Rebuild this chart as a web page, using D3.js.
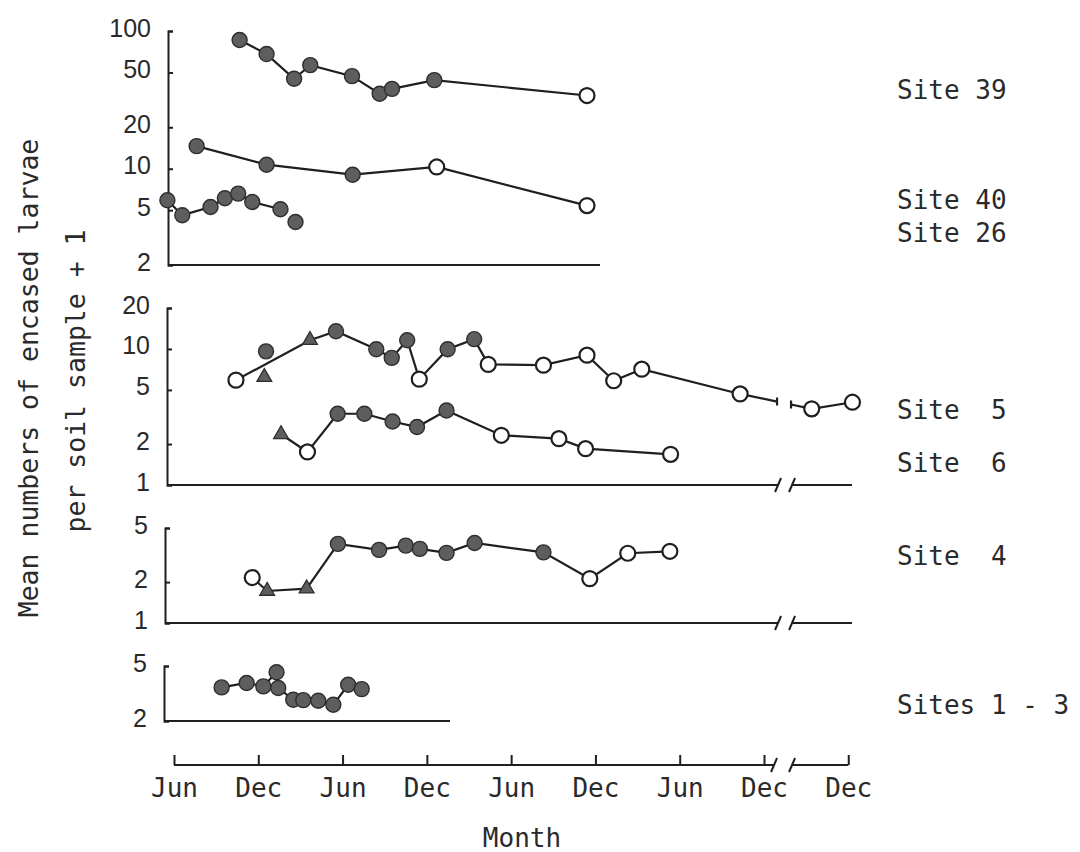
<!DOCTYPE html>
<html>
<head>
<meta charset="utf-8">
<script src="https://cdn.jsdelivr.net/npm/d3@7"></script>
<style>
  body { margin: 0; background: #fff; }
  svg { display: block; }
</style>
</head>
<body>
<svg id="chart" width="1080" height="852"></svg>
<script>
// Time is counted in months from the first June on the axis (Jun = 0, Dec = 6, ...).
const monthTicks  = [0, 6, 12, 18, 24, 30, 36, 42, 54];
const monthLabels = ["Jun", "Dec", "Jun", "Dec", "Jun", "Dec", "Jun", "Dec", "Dec"];

// Marker codes: f = filled circle, o = open circle, t = filled triangle.
const site39Months = [4.67, 6.59, 8.55, 9.7, 12.67, 14.64, 15.52, 18.53, 29.4];
const site39Values = [86, 68, 45, 56.5, 47, 35, 38, 44, 34];
const site39Marks  = ["f", "f", "f", "f", "f", "f", "f", "f", "o"];

const site40Months = [1.61, 6.59, 12.72, 18.7, 29.4];
const site40Values = [14.6, 10.7, 9.05, 10.3, 5.4];
const site40Marks  = ["f", "f", "f", "o", "o"];

const site26Months = [-0.47, 0.59, 2.6, 3.62, 4.57, 5.57, 7.58];
const site26Values = [5.9, 4.6, 5.27, 6.1, 6.6, 5.74, 5.08];
const site26Marks  = ["f", "f", "f", "f", "f", "f", "f"];
const site26LooseMonths = [8.65];
const site26LooseValues = [4.1];
const site26LooseMarks  = ["f"];

const site5Months = [4.41, 9.68, 11.53, 14.4, 15.5, 16.6, 17.46, 19.48, 21.37, 22.37, 26.3, 29.4, 31.3, 33.3, 40.3, 51.4, 54.3];
const site5Values = [5.9, 11.6, 13.5, 9.95, 8.6, 11.6, 6.0, 9.95, 11.8, 7.7, 7.6, 9.0, 5.84, 7.1, 4.67, 3.63, 4.06];
const site5Marks  = ["o", "t", "f", "f", "f", "f", "o", "f", "f", "o", "o", "o", "o", "o", "o", "o", "o"];
const site5LooseMonths = [6.55, 6.43];
const site5LooseValues = [9.6, 6.2];
const site5LooseMarks  = ["f", "t"];

const site6Months = [7.62, 9.5, 11.65, 13.55, 15.56, 17.3, 19.4, 23.3, 27.4, 29.3, 35.35];
const site6Values = [2.36, 1.75, 3.34, 3.34, 2.93, 2.67, 3.53, 2.32, 2.19, 1.85, 1.68];
const site6Marks  = ["t", "o", "f", "f", "f", "f", "f", "o", "o", "o", "o"];

const site4Months = [5.57, 6.63, 9.44, 11.67, 14.6, 16.5, 17.5, 19.4, 21.4, 26.3, 29.6, 32.3, 35.3];
const site4Values = [2.16, 1.72, 1.79, 3.82, 3.45, 3.71, 3.51, 3.28, 3.88, 3.31, 2.12, 3.26, 3.37];
const site4Marks  = ["o", "t", "t", "f", "f", "f", "f", "f", "f", "f", "o", "o", "o"];

const sites13Months = [3.39, 5.17, 6.36, 7.3, 7.42, 8.49, 9.2, 10.27, 11.34, 12.4, 13.36];
const sites13Values = [3.5, 3.77, 3.56, 4.5, 3.47, 2.85, 2.83, 2.8, 2.62, 3.66, 3.4];
const sites13Marks  = ["f", "f", "f", "f", "f", "f", "f", "f", "f", "f", "f"];

const siteNames = ["Site 39", "Site 40", "Site 26", "Site  5", "Site  6", "Site  4", "Sites 1 - 3"];

// ---------------------------------------------------------------------------
const svg = d3.select("#chart");
const ink = "#1f1f1f";
const monoFont = "'DejaVu Sans Mono', 'Liberation Mono', monospace";
const numFont = "'Liberation Sans', Arial, sans-serif";

// Horizontal time scale with a break between months 43 and 50.
const breakStart = 43, breakEnd = 50;
const base = d3.scaleLinear().domain([0, 42]).range([174, 764]);
const slope = base(1) - base(0);
const gapPx = 14;
const x = d3.scaleLinear()
  .domain([-1, breakStart, breakEnd, 56])
  .range([base(-1), base(breakStart), base(breakStart) + gapPx, base(breakStart) + gapPx + (56 - breakEnd) * slope]);

// Stacked panels, each with its own logarithmic scale.
const panels = [
  { axisX: 168, top: 31,  bottom: 265, domain: [2, 100], ticks: [2, 5, 10, 20, 50, 100], right: 600, broken: false },
  { axisX: 167, top: 308, bottom: 485, domain: [1, 20],  ticks: [1, 2, 5, 10, 20],       right: 852, broken: true },
  { axisX: 165, top: 528, bottom: 623, domain: [1, 5],   ticks: [1, 2, 5],               right: 852, broken: true },
  { axisX: 164, top: 666, bottom: 721, domain: [2, 5],   ticks: [2, 5],                  right: 450, broken: false }
];
panels.forEach(p => {
  p.y = d3.scaleLog().domain(p.domain).range([p.bottom, p.top]);
});

function slash(g, cx, cy) {
  g.append("line")
    .attr("x1", cx - 3).attr("y1", cy + 7)
    .attr("x2", cx + 3).attr("y2", cy - 7)
    .attr("stroke", ink).attr("stroke-width", 2);
}

// Panel axes and baselines
panels.forEach(p => {
  const g = svg.append("g");
  const axis = d3.axisLeft(p.y)
    .tickValues(p.ticks)
    .tickFormat(d3.format("d"))
    .tickSizeInner(-5)
    .tickSizeOuter(-5)
    .tickPadding(17);
  const ag = g.append("g").attr("transform", `translate(${p.axisX},0)`).call(axis);
  ag.select(".domain").attr("stroke", ink).attr("stroke-width", 2);
  ag.selectAll(".tick line").attr("stroke", ink).attr("stroke-width", 2);
  ag.selectAll(".tick text")
    .attr("font-family", numFont).attr("font-size", 25).attr("fill", "#2a2a2a")
    .attr("dy", "0.2em");

  if (p.broken) {
    g.append("line").attr("x1", p.axisX).attr("x2", x(breakStart))
      .attr("y1", p.bottom).attr("y2", p.bottom).attr("stroke", ink).attr("stroke-width", 2);
    g.append("line").attr("x1", x(breakEnd)).attr("x2", p.right)
      .attr("y1", p.bottom).attr("y2", p.bottom).attr("stroke", ink).attr("stroke-width", 2);
    slash(g, x(breakStart), p.bottom);
    slash(g, x(breakEnd), p.bottom);
  } else {
    g.append("line").attr("x1", p.axisX).attr("x2", p.right)
      .attr("y1", p.bottom).attr("y2", p.bottom).attr("stroke", ink).attr("stroke-width", 2);
  }
});

// Bottom time axis: ticks point up, labels sit below the line.
const timeY = 765;
const tg = svg.append("g").attr("transform", `translate(0,${timeY})`)
  .call(d3.axisBottom(x)
    .tickValues(monthTicks)
    .tickFormat((d, i) => monthLabels[i])
    .tickSizeInner(-10)
    .tickSizeOuter(0)
    .tickPadding(16));
tg.select(".domain").remove();
tg.selectAll(".tick line").attr("stroke", ink).attr("stroke-width", 2);
tg.selectAll(".tick text")
  .attr("font-family", monoFont).attr("font-size", 26).attr("fill", "#2a2a2a")
  .attr("dy", "0.6em");
tg.append("line").attr("x1", x(0)).attr("x2", x(breakStart) - 4)
  .attr("y1", 0).attr("y2", 0).attr("stroke", ink).attr("stroke-width", 2);
tg.append("line").attr("x1", x(breakEnd)).attr("x2", x(54))
  .attr("y1", 0).attr("y2", 0).attr("stroke", ink).attr("stroke-width", 2);
slash(tg, x(breakStart) - 4, 0);
slash(tg, x(breakEnd), 0);

// Axis titles
svg.append("text")
  .attr("x", 522).attr("y", 838)
  .attr("text-anchor", "middle").attr("dominant-baseline", "central")
  .attr("font-family", monoFont).attr("font-size", 26).attr("fill", "#2a2a2a")
  .text("Month");

const yTitle = svg.append("g").attr("font-family", monoFont).attr("font-size", 26.5).attr("fill", "#2a2a2a");
yTitle.append("text")
  .attr("transform", "translate(28,378) rotate(-90)")
  .attr("text-anchor", "middle").attr("dominant-baseline", "central")
  .text("Mean numbers of encased larvae");
yTitle.append("text")
  .attr("transform", "translate(75,381) rotate(-90)")
  .attr("text-anchor", "middle").attr("dominant-baseline", "central")
  .text("per soil sample + 1");

// Site labels on the right
const siteLabelY = [90, 200, 233, 410, 463, 556, 705];
svg.append("g").selectAll("text").data(siteNames).join("text")
  .attr("x", 897).attr("y", (d, i) => siteLabelY[i])
  .attr("dominant-baseline", "central")
  .attr("font-family", monoFont).attr("font-size", 26).attr("fill", "#2a2a2a")
  .attr("xml:space", "preserve")
  .style("white-space", "pre")
  .text(d => d);

// Series
const lineGroup = svg.append("g");
const markGroup = svg.append("g");

function toPoints(months, values, marks) {
  return months.map((m, i) => ({ m: m, v: values[i], mark: marks[i] }));
}

function drawSeries(p, months, values, marks, loose) {
  const pts = toPoints(months, values, marks);
  const line = d3.line().x(d => x(d.m)).y(d => p.y(d.v));
  const pre = pts.filter(d => d.m < breakStart);
  const post = pts.filter(d => d.m > breakEnd);
  [pre, post].forEach(seg => {
    if (seg.length > 1) {
      lineGroup.append("path").attr("d", line(seg))
        .attr("fill", "none").attr("stroke", ink).attr("stroke-width", 2.2);
    }
  });
  if (pre.length && post.length) {
    const a = pre[pre.length - 1], b = post[0];
    const ax = x(a.m), ay = p.y(a.v), bx = x(b.m), by = p.y(b.v);
    const xl = x(breakStart) - 1, xr = x(breakEnd) - 1;
    const yl = ay + (by - ay) * (xl - ax) / (bx - ax);
    const yr = ay + (by - ay) * (xr - ax) / (bx - ax);
    lineGroup.append("path")
      .attr("d", `M${ax},${ay}L${xl},${yl}M${xr},${yr}L${bx},${by}M${xl},${yl - 4}V${yl + 4}M${xr},${yr - 4}V${yr + 4}`)
      .attr("fill", "none").attr("stroke", ink).attr("stroke-width", 2.2);
  }
  const all = loose ? pts.concat(toPoints(loose[0], loose[1], loose[2])) : pts;
  all.forEach(d => {
    const cx = x(d.m), cy = p.y(d.v);
    if (d.mark === "t") {
      markGroup.append("path")
        .attr("d", d3.symbol(d3.symbolTriangle, 95)())
        .attr("transform", `translate(${cx},${cy})`)
        .attr("fill", "#5e5e5e").attr("stroke", "#2e2e2e").attr("stroke-width", 1.3);
    } else {
      markGroup.append("circle")
        .attr("cx", cx).attr("cy", cy).attr("r", 7.5)
        .attr("fill", d.mark === "f" ? "#5e5e5e" : "#fff")
        .attr("stroke", d.mark === "f" ? "#2e2e2e" : ink)
        .attr("stroke-width", d.mark === "f" ? 1.4 : 2.2);
    }
  });
}

drawSeries(panels[0], site39Months, site39Values, site39Marks);
drawSeries(panels[0], site40Months, site40Values, site40Marks);
drawSeries(panels[0], site26Months, site26Values, site26Marks, [site26LooseMonths, site26LooseValues, site26LooseMarks]);
drawSeries(panels[1], site5Months, site5Values, site5Marks, [site5LooseMonths, site5LooseValues, site5LooseMarks]);
drawSeries(panels[1], site6Months, site6Values, site6Marks);
drawSeries(panels[2], site4Months, site4Values, site4Marks);
drawSeries(panels[3], sites13Months, sites13Values, sites13Marks);
</script>
</body>
</html>
